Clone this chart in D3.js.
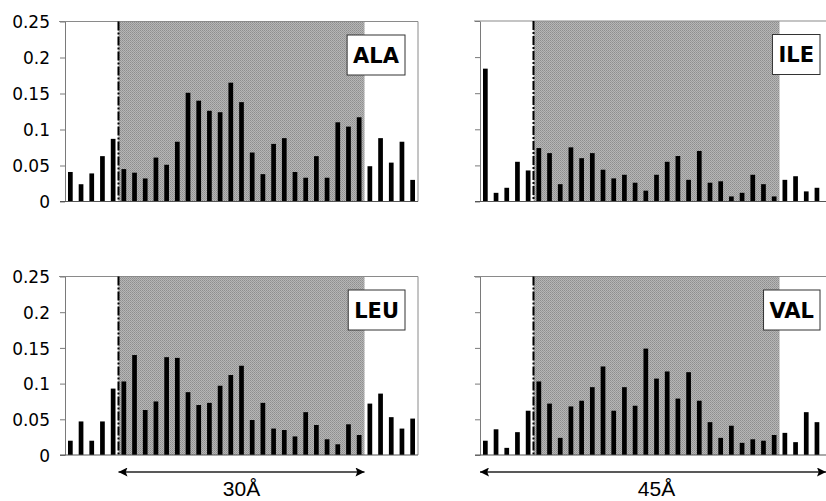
<!DOCTYPE html>
<meta charset="utf-8">
<style>
  body { margin: 0; background: #fff; }
  svg { display: block; }
  .tick text { font-family: "DejaVu Sans", Verdana, sans-serif; font-size: 17px; fill: #000; }
</style>
<body>
<div id="chart"></div>
<script src="https://d3js.org/d3.v7.min.js"></script>
<script>

// bin index along the x axis (33 bins per panel)
var bins = [1, 2, 3, 4, 5, 6, 7, 8, 9, 10, 11, 12, 13, 14, 15, 16, 17,
            18, 19, 20, 21, 22, 23, 24, 25, 26, 27, 28, 29, 30, 31, 32, 33];

// values
var alaValues = [0.041, 0.024, 0.039, 0.063, 0.087, 0.045, 0.040, 0.032, 0.061, 0.051, 0.083,
                 0.151, 0.140, 0.126, 0.124, 0.165, 0.138, 0.068, 0.038, 0.080, 0.088, 0.041,
                 0.033, 0.063, 0.033, 0.110, 0.104, 0.117, 0.049, 0.088, 0.054, 0.083, 0.030];
var ileValues = [0.184, 0.012, 0.019, 0.055, 0.043, 0.074, 0.067, 0.024, 0.075, 0.060, 0.067,
                 0.044, 0.032, 0.037, 0.026, 0.015, 0.037, 0.055, 0.063, 0.030, 0.070, 0.026,
                 0.028, 0.007, 0.012, 0.037, 0.024, 0.007, 0.030, 0.035, 0.014, 0.019];
var leuValues = [0.020, 0.047, 0.020, 0.047, 0.093, 0.103, 0.140, 0.063, 0.075, 0.137, 0.136,
                 0.088, 0.070, 0.073, 0.097, 0.112, 0.125, 0.049, 0.073, 0.037, 0.035, 0.026,
                 0.060, 0.042, 0.022, 0.015, 0.043, 0.028, 0.072, 0.086, 0.053, 0.037, 0.051];
var valValues = [0.020, 0.036, 0.010, 0.032, 0.062, 0.103, 0.072, 0.024, 0.068, 0.076, 0.095,
                 0.124, 0.062, 0.095, 0.069, 0.149, 0.107, 0.117, 0.079, 0.116, 0.076, 0.046,
                 0.024, 0.041, 0.017, 0.022, 0.020, 0.028, 0.031, 0.018, 0.060, 0.046];

var yTicks = [0, 0.05, 0.1, 0.15, 0.2, 0.25];
var yTickLabels = ["0", "0.05", "0.1", "0.15", "0.2", "0.25"];

// shaded window: first and last shaded bin
var shadeFirst = 6, shadeLast = 28;

var names = ["ALA", "ILE", "LEU", "VAL"];
var series = [alaValues, ileValues, leuValues, valValues];
var distLabels = ["30\u00c5", "45\u00c5"];

// panel layout
var panels = [
  {left: 65,  right: 418, top: 21.5, bottom: 201.5, labels: true},
  {left: 480, right: 833, top: 21,   bottom: 201.5, labels: false},
  {left: 65,  right: 418, top: 276.5, bottom: 455,  labels: true},
  {left: 480, right: 833, top: 276.5, bottom: 455,  labels: false}
];

var svg = d3.select("#chart").append("svg")
    .attr("width", 826)
    .attr("height", 501);

// halftone-like grey for the shaded window
var pat = svg.append("defs").append("pattern")
    .attr("id", "halftone")
    .attr("patternUnits", "userSpaceOnUse")
    .attr("width", 2).attr("height", 2);
pat.append("rect").attr("width", 2).attr("height", 2).attr("fill", "#b6b6b6");
pat.append("rect").attr("width", 1).attr("height", 1).attr("fill", "#8e8e8e");
pat.append("rect").attr("x", 1).attr("y", 1).attr("width", 1).attr("height", 1).attr("fill", "#9a9a9a");

var scales = [];

panels.forEach(function(p, i) {
  var x = d3.scaleBand().domain(bins).range([p.left, p.right]).paddingInner(0.56).paddingOuter(0.28);
  var xb = d3.scaleBand().domain(bins).range([p.left, p.right]);
  var y = d3.scaleLinear().domain([0, 0.25]).range([p.bottom, p.top]);
  scales.push({x: x, xb: xb, y: y});

  var g = svg.append("g");

  // shaded window
  var sx0 = xb(shadeFirst), sx1 = xb(shadeLast) + xb.bandwidth();
  g.append("rect")
    .attr("x", sx0).attr("y", y(0.25))
    .attr("width", sx1 - sx0).attr("height", y(0) - y(0.25))
    .attr("fill", "url(#halftone)");

  // frame
  g.append("line").attr("x1", p.left - 6).attr("x2", p.right)
    .attr("y1", y(0.25)).attr("y2", y(0.25))
    .attr("stroke", "#8a8a8a").attr("stroke-width", 1.2);
  g.append("line").attr("x1", p.right).attr("x2", p.right)
    .attr("y1", y(0.25)).attr("y2", y(0))
    .attr("stroke", "#8a8a8a").attr("stroke-width", 1);

  // bars
  g.selectAll(".bar")
    .data(series[i])
    .enter().append("rect")
      .attr("class", "bar")
      .attr("x", function(d, k) { return x(bins[k]); })
      .attr("width", x.bandwidth())
      .attr("y", function(d) { return y(d); })
      .attr("height", function(d) { return y(0) - y(d); })
      .attr("fill", "#000");

  // dash-dot boundary
  g.append("line").attr("x1", sx0).attr("x2", sx0)
    .attr("y1", y(0.25)).attr("y2", y(0))
    .attr("stroke", "#000").attr("stroke-width", 2)
    .attr("stroke-dasharray", "9,2,2,2");

  // y axis
  var yAxis = d3.axisLeft(y)
    .tickValues(yTicks)
    .tickSize(5)
    .tickSizeOuter(0)
    .tickPadding(10)
    .tickFormat(function(d, k) { return p.labels ? yTickLabels[k] : ""; });
  var ya = g.append("g")
    .attr("transform", "translate(" + p.left + ",0)")
    .call(yAxis);
  ya.select(".domain").attr("stroke", "#7a7a7a");
  ya.selectAll(".tick line").attr("stroke", "#7a7a7a");
  ya.selectAll(".tick text").attr("dy", "0.36em");

  // baseline
  g.append("line").attr("x1", p.left - 5).attr("x2", p.right)
    .attr("y1", y(0)).attr("y2", y(0))
    .attr("stroke", "#555").attr("stroke-width", 1.2);

  // name box
  var lbl = g.append("g");
  var t = lbl.append("text")
    .attr("font-family", "'DejaVu Sans', Verdana, sans-serif")
    .attr("font-weight", "bold")
    .attr("font-size", 21)
    .attr("fill", "#000")
    .text(names[i]);
  var tw = t.node().getComputedTextLength();
  var bw = tw + 12, bh = 40;
  var bx = p.right - 13 - bw, by = y(0.25) + 13.5;
  lbl.insert("rect", "text")
    .attr("x", bx).attr("y", by).attr("width", bw).attr("height", bh)
    .attr("fill", "#fff").attr("stroke", "#333").attr("stroke-width", 1);
  t.attr("x", bx + bw / 2).attr("y", by + bh / 2 + 7.5).attr("text-anchor", "middle");
});

// distance arrows below the bottom panels
var defs = svg.select("defs");
defs.append("marker")
    .attr("id", "head")
    .attr("viewBox", "0 0 10 10")
    .attr("refX", 10).attr("refY", 5)
    .attr("markerWidth", 11).attr("markerHeight", 9)
    .attr("markerUnits", "userSpaceOnUse")
    .attr("orient", "auto-start-reverse")
  .append("path")
    .attr("d", "M0,0 L10,5 L0,10 L2,5 Z")
    .attr("fill", "#000");

var leu = scales[2], val = scales[3];
var arrows = [
  {x0: leu.xb(shadeFirst), x1: leu.xb(shadeLast) + leu.xb.bandwidth()},
  {x0: val.xb.range()[0], x1: 826}
];
var arrowY = 472;

arrows.forEach(function(a, k) {
  svg.append("line")
    .attr("x1", a.x0).attr("x2", a.x1)
    .attr("y1", arrowY).attr("y2", arrowY)
    .attr("stroke", "#222").attr("stroke-width", 1.3)
    .attr("marker-start", "url(#head)")
    .attr("marker-end", "url(#head)");
  var cx = k === 0 ? (a.x0 + a.x1) / 2 : (val.xb.range()[0] + val.xb.range()[1]) / 2;
  svg.append("text")
    .attr("x", cx).attr("y", 496)
    .attr("text-anchor", "middle")
    .attr("font-family", "'Liberation Sans', Arial, sans-serif")
    .attr("font-size", 21)
    .attr("fill", "#000")
    .text(distLabels[k]);
});

</script>
</body>
